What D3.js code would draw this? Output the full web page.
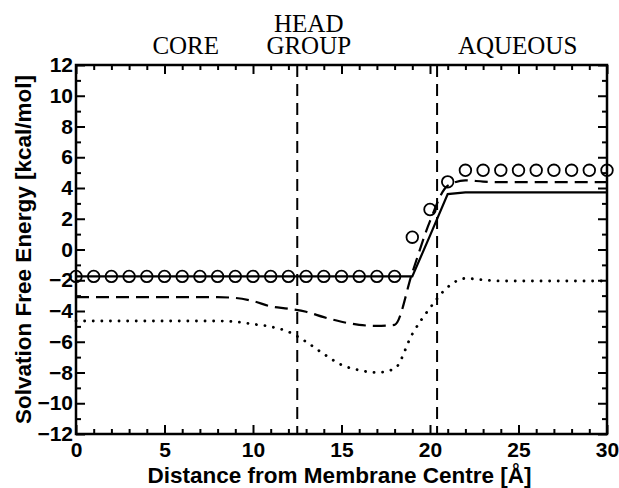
<!DOCTYPE html>
<html>
<head>
<meta charset="utf-8">
<script src="https://cdn.jsdelivr.net/npm/d3@7"></script>
<style>
  body { margin: 0; background: #fff; }
  svg { display: block; }
  .tick text { font-family: "Liberation Sans", Arial, sans-serif; font-weight: bold; }
</style>
</head>
<body>
<svg id="chart"></svg>
<script>
// distance from membrane centre (Å)
const distance = [0, 1, 2, 3, 4, 5, 6, 7, 8, 9, 10, 11, 12, 13, 14, 15, 16, 17, 18, 19, 20, 21, 22, 23, 24, 25, 26, 27, 28, 29, 30];

// open circles
const circleVals = [-1.75, -1.75, -1.75, -1.75, -1.75, -1.75, -1.75, -1.75, -1.75, -1.75,
  -1.75, -1.75, -1.75, -1.75, -1.75, -1.75, -1.75, -1.75, -1.75, 0.8, 2.6, 4.4,
  5.15, 5.15, 5.15, 5.15, 5.15, 5.15, 5.15, 5.15, 5.15];

// solid line
const solidVals = [-1.75, -1.75, -1.75, -1.75, -1.75, -1.75, -1.75, -1.75, -1.75, -1.75,
  -1.75, -1.75, -1.75, -1.75, -1.75, -1.75, -1.75, -1.75, -1.75, -1.75, 0.9, 3.6,
  3.72, 3.72, 3.72, 3.72, 3.72, 3.72, 3.72, 3.72, 3.72];

// dashed line
const dashedVals = [-3.1, -3.1, -3.1, -3.1, -3.1, -3.1, -3.1, -3.1, -3.1, -3.15,
  -3.35, -3.7, -3.85, -4.05, -4.4, -4.7, -4.9, -4.97, -4.9, -1.5, 1.85, 4.15,
  4.5, 4.42, 4.38, 4.38, 4.38, 4.38, 4.38, 4.38, 4.38];

// dotted line
const dottedVals = [-4.65, -4.65, -4.65, -4.65, -4.65, -4.65, -4.65, -4.65, -4.65, -4.7,
  -4.85, -5.02, -5.35, -6.0, -6.8, -7.5, -7.85, -8.0, -7.75, -5.5, -3.8, -2.45,
  -1.88, -1.97, -2.05, -2.05, -2.05, -2.05, -2.05, -2.05, -2.05];

// region boundaries and labels
const boundaries = [12.5, 20.4];
const regionLabels = [
  { lines: ['CORE'], x: 6.2 },
  { lines: ['HEAD', 'GROUP'], x: 13.15 },
  { lines: ['AQUEOUS'], x: 24.95 }
];

const xMajor = [0, 5, 10, 15, 20, 25, 30];
const xMinor = [1, 2, 3, 4, 6, 7, 8, 9, 11, 12, 13, 14, 16, 17, 18, 19, 21, 22, 23, 24, 26, 27, 28, 29];
const yMajor = [-12, -10, -8, -6, -4, -2, 0, 2, 4, 6, 8, 10, 12];
const yMinor = [-11, -9, -7, -5, -3, -1, 1, 3, 5, 7, 9, 11];

const width = 619;
const height = 488;
const margin = { top: 65, right: 12, bottom: 54, left: 76 };
const chartWidth = width - margin.left - margin.right;
const chartHeight = height - margin.top - margin.bottom;

const svg = d3.select('#chart')
  .attr('width', width)
  .attr('height', height);

const g = svg.append('g')
  .attr('transform', `translate(${margin.left}, ${margin.top})`);

const xScale = d3.scaleLinear().domain([0, 30]).range([0, chartWidth]);
const yScale = d3.scaleLinear().domain([-12, 12]).range([chartHeight, 0]);

// axes: ticks pointing inwards on all four sides
const styleAxis = (sel) => {
  sel.select('.domain').remove();
  sel.selectAll('line').attr('stroke', '#000').attr('stroke-width', 2);
};

g.append('g')
  .attr('transform', `translate(0, ${chartHeight})`)
  .call(d3.axisBottom(xScale).tickValues(xMajor).tickSize(-9).tickPadding(8).tickFormat(d3.format('d')))
  .call(styleAxis)
  .selectAll('text')
  .attr('font-size', 21)
  .attr('fill', '#000');

g.append('g')
  .attr('transform', `translate(0, ${chartHeight})`)
  .call(d3.axisBottom(xScale).tickValues(xMinor).tickSize(-5).tickFormat(''))
  .call(styleAxis);

g.append('g')
  .call(d3.axisTop(xScale).tickValues(xMajor).tickSize(-9).tickFormat(''))
  .call(styleAxis);

g.append('g')
  .call(d3.axisTop(xScale).tickValues(xMinor).tickSize(-5).tickFormat(''))
  .call(styleAxis);

g.append('g')
  .call(d3.axisLeft(yScale).tickValues(yMajor).tickSize(-9).tickPadding(3).tickFormat(d3.format('d')))
  .call(styleAxis)
  .selectAll('text')
  .attr('font-size', 21)
  .attr('fill', '#000');

g.append('g')
  .call(d3.axisLeft(yScale).tickValues(yMinor).tickSize(-5).tickFormat(''))
  .call(styleAxis);

g.append('g')
  .attr('transform', `translate(${chartWidth}, 0)`)
  .call(d3.axisRight(yScale).tickValues(yMajor).tickSize(-9).tickFormat(''))
  .call(styleAxis);

g.append('g')
  .attr('transform', `translate(${chartWidth}, 0)`)
  .call(d3.axisRight(yScale).tickValues(yMinor).tickSize(-5).tickFormat(''))
  .call(styleAxis);

// frame
g.append('rect')
  .attr('width', chartWidth)
  .attr('height', chartHeight)
  .attr('fill', 'none')
  .attr('stroke', '#000')
  .attr('stroke-width', 2.5);

// region boundaries
g.selectAll('.boundary')
  .data(boundaries)
  .enter()
  .append('line')
  .attr('x1', (d) => xScale(d))
  .attr('x2', (d) => xScale(d))
  .attr('y1', 0)
  .attr('y2', chartHeight)
  .attr('stroke', '#000')
  .attr('stroke-width', 2)
  .attr('stroke-dasharray', '12,7');

// curves
const series = [
  { vals: dottedVals, dash: '0.1,8.5', curve: d3.curveMonotoneX, cap: 'round', w: 2.8 },
  { vals: dashedVals, dash: '13,7', curve: d3.curveMonotoneX, cap: 'butt', w: 2.2 },
  { vals: solidVals, dash: null, curve: d3.curveLinear, cap: 'butt', w: 2.2 }
];

series.forEach((s) => {
  const line = d3.line()
    .x((d, i) => xScale(distance[i]))
    .y((d) => yScale(d))
    .curve(s.curve);
  g.append('path')
    .datum(s.vals)
    .attr('d', line)
    .attr('fill', 'none')
    .attr('stroke', '#000')
    .attr('stroke-width', s.w)
    .attr('stroke-linecap', s.cap)
    .attr('stroke-dasharray', s.dash);
});

// open circles
g.selectAll('.pt')
  .data(circleVals)
  .enter()
  .append('circle')
  .attr('cx', (d, i) => xScale(distance[i]))
  .attr('cy', (d) => yScale(d))
  .attr('r', 5.8)
  .attr('fill', 'none')
  .attr('stroke', '#000')
  .attr('stroke-width', 1.8);

// region labels
regionLabels.forEach((r) => {
  const t = svg.append('text')
    .attr('x', margin.left + xScale(r.x))
    .attr('y', 54 - (r.lines.length - 1) * 22)
    .attr('text-anchor', 'middle')
    .attr('font-family', '"Liberation Serif", "Times New Roman", serif')
    .attr('font-size', 25)
    .attr('fill', '#000');
  r.lines.forEach((ln, i) => {
    t.append('tspan')
      .attr('x', margin.left + xScale(r.x))
      .attr('dy', i === 0 ? 0 : 22)
      .text(ln);
  });
});

// axis titles
svg.append('text')
  .attr('x', margin.left + chartWidth / 2 - 2)
  .attr('y', 483)
  .attr('text-anchor', 'middle')
  .attr('font-family', '"Liberation Sans", Arial, sans-serif')
  .attr('font-weight', 'bold')
  .attr('font-size', 22.5)
  .text('Distance from Membrane Centre [Å]');

svg.append('text')
  .attr('transform', `translate(31, ${margin.top + chartHeight / 2}) rotate(-90)`)
  .attr('text-anchor', 'middle')
  .attr('font-family', '"Liberation Sans", Arial, sans-serif')
  .attr('font-weight', 'bold')
  .attr('font-size', 22.5)
  .text('Solvation Free Energy [kcal/mol]');
</script>
</body>
</html>
